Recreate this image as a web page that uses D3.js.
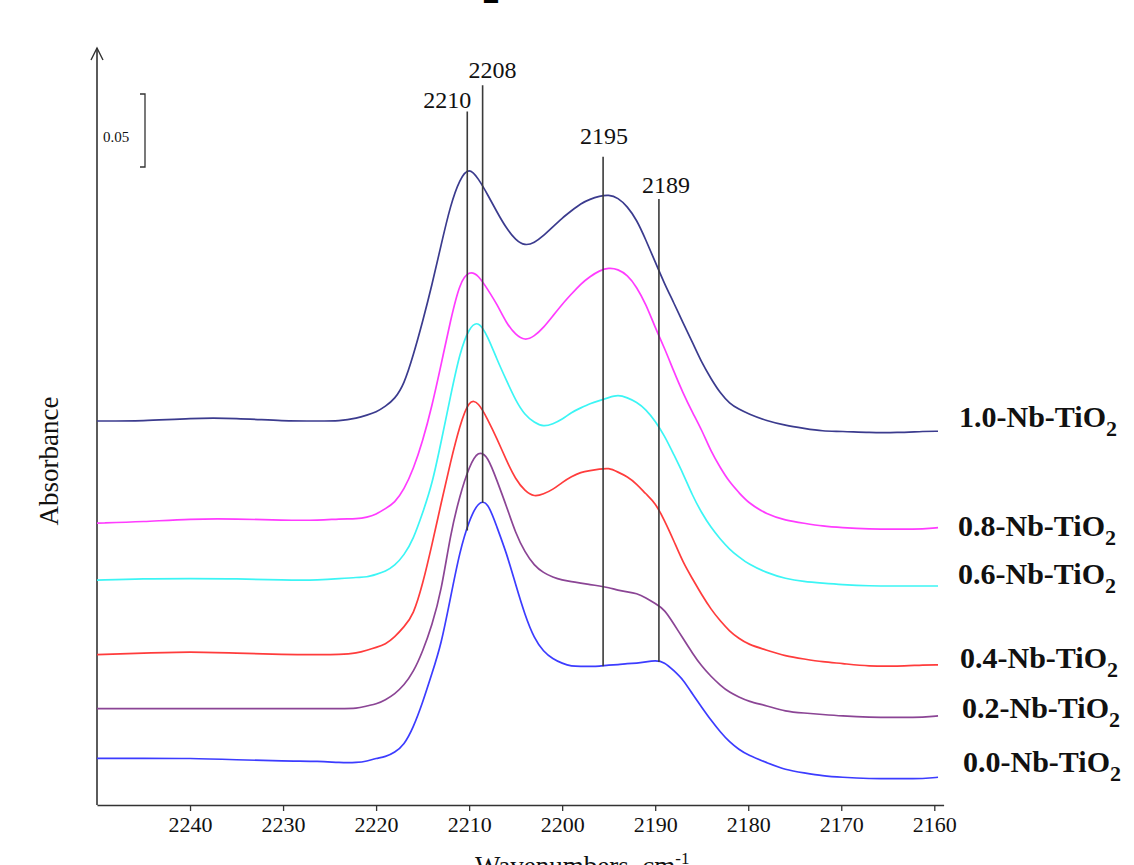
<!DOCTYPE html>
<html>
<head>
<meta charset="utf-8">
<script src="https://cdn.jsdelivr.net/npm/d3@7"></script>
<style>
  body { margin: 0; background: #fff; }
  svg { display: block; }
  text { font-family: "Liberation Serif", "Times New Roman", serif; }
</style>
</head>
<body>
<svg id="chart" width="1134" height="865"></svg>
<script>
// wavenumber grid (cm-1)
var wavenumbers = [2250,2245,2240,2235,2230,2226,2224,2222,
  2221,2220,2219,2218,2217,2216,2215,2214,2213,2212,2211,2210,
  2209,2208,2207,2206,2205,2204,2203,2202,2201,2200,
  2199,2198,2197,2196,2195,2194,2193,2192,2191,2190,
  2189,2188,2187,2186,2185,2184,2183,2182,2181,2180,
  2178,2176,2174,2172,2170,2167,2164,2161,2159.6];

// absorbance of each sample (stacked as drawn)
var abs10 = [0.263,0.263,0.265,0.265,0.263,0.263,0.263,0.265,
  0.267,0.269,0.273,0.278,0.288,0.308,0.331,0.356,0.384,0.411,0.429,0.437,
  0.429,0.418,0.406,0.395,0.387,0.383,0.385,0.390,0.396,0.402,
  0.407,0.412,0.415,0.417,0.418,0.416,0.410,0.401,0.387,0.372,
  0.357,0.344,0.330,0.317,0.303,0.292,0.282,0.275,0.271,0.268,
  0.263,0.260,0.258,0.256,0.256,0.255,0.255,0.256,0.256];
var abs08 = [0.193,0.194,0.196,0.196,0.195,0.195,0.196,0.196,
  0.197,0.199,0.203,0.207,0.216,0.230,0.249,0.273,0.302,0.332,0.358,0.366,
  0.363,0.353,0.343,0.330,0.322,0.318,0.321,0.327,0.335,0.343,
  0.350,0.357,0.362,0.366,0.368,0.367,0.363,0.355,0.343,0.327,
  0.313,0.297,0.282,0.269,0.257,0.242,0.231,0.221,0.214,0.207,
  0.199,0.195,0.193,0.191,0.190,0.189,0.189,0.189,0.190];
var abs06 = [0.154,0.155,0.155,0.155,0.154,0.154,0.155,0.156,
  0.156,0.158,0.160,0.164,0.171,0.182,0.200,0.219,0.249,0.280,0.310,0.327,
  0.332,0.321,0.305,0.291,0.277,0.267,0.262,0.259,0.261,0.264,
  0.269,0.272,0.275,0.277,0.279,0.281,0.279,0.276,0.271,0.263,
  0.253,0.240,0.227,0.212,0.200,0.190,0.182,0.175,0.170,0.165,
  0.159,0.155,0.153,0.152,0.151,0.150,0.150,0.150,0.150];
var abs04 = [0.103,0.104,0.105,0.104,0.103,0.103,0.103,0.104,
  0.106,0.108,0.110,0.115,0.122,0.130,0.151,0.178,0.207,0.235,0.260,0.278,
  0.276,0.264,0.251,0.236,0.223,0.215,0.211,0.213,0.216,0.221,
  0.225,0.228,0.229,0.230,0.231,0.228,0.225,0.220,0.213,0.207,
  0.195,0.181,0.166,0.155,0.144,0.134,0.126,0.119,0.114,0.110,
  0.106,0.102,0.100,0.098,0.097,0.095,0.095,0.096,0.096];
var abs02 = [0.066,0.066,0.066,0.066,0.066,0.066,0.066,0.066,
  0.068,0.069,0.072,0.076,0.082,0.091,0.105,0.123,0.146,0.186,0.212,0.232,
  0.243,0.239,0.222,0.205,0.186,0.173,0.164,0.159,0.156,0.154,
  0.153,0.152,0.151,0.150,0.149,0.147,0.146,0.145,0.142,0.138,
  0.134,0.124,0.114,0.104,0.095,0.088,0.082,0.077,0.074,0.071,
  0.068,0.064,0.063,0.062,0.061,0.060,0.060,0.060,0.061];
var abs00 = [0.032,0.032,0.032,0.031,0.030,0.030,0.029,0.029,
  0.030,0.032,0.033,0.036,0.041,0.053,0.070,0.090,0.110,0.142,0.174,0.195,
  0.208,0.208,0.190,0.173,0.151,0.130,0.114,0.105,0.100,0.097,
  0.095,0.095,0.095,0.095,0.096,0.096,0.097,0.097,0.098,0.099,
  0.098,0.092,0.086,0.076,0.067,0.058,0.050,0.043,0.038,0.034,
  0.029,0.024,0.022,0.020,0.019,0.018,0.018,0.018,0.019];

var sampleNames = ['1.0', '0.8', '0.6', '0.4', '0.2', '0.0'];
var sampleValues = [abs10, abs08, abs06, abs04, abs02, abs00];
var sampleColors = ['#3b3b8e', '#ff3cff', '#3cf5f5', '#ff3c3c', '#8b4595', '#3c3cff'];

var xTicks = [2240, 2230, 2220, 2210, 2200, 2190, 2180, 2170, 2160];

// marked bands: where the line stands, its label, top and bottom (absorbance)
var peakPos = [2210.2, 2208.55, 2195.6, 2189.6];
var peakLabels = ['2210', '2208', '2195', '2189'];
var peakTop = [0.475, 0.493, 0.444, 0.415];
var peakBottom = [0.188, 0.207, 0.095, 0.098];

var scaleBarValue = 0.05;

/*************************** layout ***************************/
var svg = d3.select('#chart');
var x0 = 97, x1 = 943.6, yBase = 805, yArrow = 48;

var x = d3.scaleLinear().domain([2250, 2159]).range([x0, x1]);
var y = d3.scaleLinear().domain([0, 0.5]).range([yBase, 75]);

// cut off title at the very top
svg.append('text')
  .attr('x', 491).attr('y', 2.5)
  .attr('text-anchor', 'middle')
  .style('font-size', '34px').style('font-weight', 'bold')
  .text('2');

// x axis
var xAxis = d3.axisBottom(x)
  .tickValues(xTicks)
  .tickFormat(d3.format('d'))
  .tickSize(6).tickSizeOuter(0).tickPadding(5);
var gx = svg.append('g').attr('transform', 'translate(0,' + yBase + ')').call(xAxis);
gx.select('.domain').attr('stroke', '#333').attr('stroke-width', 1.6);
gx.selectAll('.tick line').attr('stroke', '#333').attr('stroke-width', 1.3);
gx.selectAll('.tick text')
  .style('font-family', '"Liberation Serif", serif')
  .style('font-size', '22px').attr('fill', '#111');

// y axis with arrow
svg.append('line')
  .attr('x1', x0).attr('x2', x0).attr('y1', yBase).attr('y2', yArrow)
  .attr('stroke', '#333').attr('stroke-width', 1.6);
svg.append('path')
  .attr('d', 'M' + (x0 - 6) + ',' + (yArrow + 12) + 'L' + x0 + ',' + yArrow + 'L' + (x0 + 6) + ',' + (yArrow + 12))
  .attr('fill', 'none').attr('stroke', '#333').attr('stroke-width', 1.4);

// scale bar
var barLen = y(0) - y(scaleBarValue);
var barX = 145, barBottom = 167;
svg.append('path')
  .attr('d', 'M' + (barX - 5) + ',' + (barBottom - barLen) + 'H' + barX + 'V' + barBottom + 'H' + (barX - 5))
  .attr('fill', 'none').attr('stroke', '#333').attr('stroke-width', 1.3);
svg.append('text')
  .attr('x', 103).attr('y', 142)
  .style('font-size', '15px').attr('fill', '#111')
  .text(scaleBarValue.toFixed(2));

// axis titles
svg.append('text')
  .attr('transform', 'translate(58,461) rotate(-90)')
  .attr('text-anchor', 'middle')
  .style('font-size', '27px').attr('fill', '#111')
  .text('Absorbance');

var xt = svg.append('text')
  .attr('x', 475).attr('y', 875)
  .style('font-size', '27px').attr('fill', '#111')
  .text('Wavenumbers, cm');
xt.append('tspan').attr('dy', -11).style('font-size', '17px').text('-1');

// spectra
var line = d3.line()
  .x(function(d) { return x(d[0]); })
  .y(function(d) { return y(d[1]); })
  .curve(d3.curveBasis);

sampleValues.forEach(function(vals, i) {
  var pts = wavenumbers.map(function(w, j) { return [w, vals[j]]; });
  svg.append('path')
    .datum(pts)
    .attr('d', line)
    .attr('fill', 'none')
    .attr('stroke', sampleColors[i])
    .attr('stroke-width', 1.7);
});

// band lines and their numbers
var labelDx = [-20, 10, 1, 7];
var labelGap = [4, 7, 13, 6];
peakPos.forEach(function(p, i) {
  svg.append('line')
    .attr('x1', x(p)).attr('x2', x(p))
    .attr('y1', y(peakTop[i])).attr('y2', y(peakBottom[i]))
    .attr('stroke', '#3a3a3a').attr('stroke-width', 1.6);
  svg.append('text')
    .attr('x', x(p) + labelDx[i]).attr('y', y(peakTop[i]) - labelGap[i])
    .attr('text-anchor', 'middle')
    .style('font-size', '24px').attr('fill', '#111')
    .text(peakLabels[i]);
});

// sample names at the right end
var nameX = [959, 958, 958, 960, 962, 963];
var nameDy = [-4, 8, -2, 3, 2, -5];
sampleNames.forEach(function(n, i) {
  var last = sampleValues[i][sampleValues[i].length - 1];
  var t = svg.append('text')
    .attr('x', nameX[i]).attr('y', y(last) + nameDy[i])
    .style('font-size', '30px').style('font-weight', 'bold').attr('fill', '#111')
    .text(n + '-Nb-TiO');
  t.append('tspan').attr('dy', 9).style('font-size', '22px').text('2');
});
</script>
</body>
</html>
